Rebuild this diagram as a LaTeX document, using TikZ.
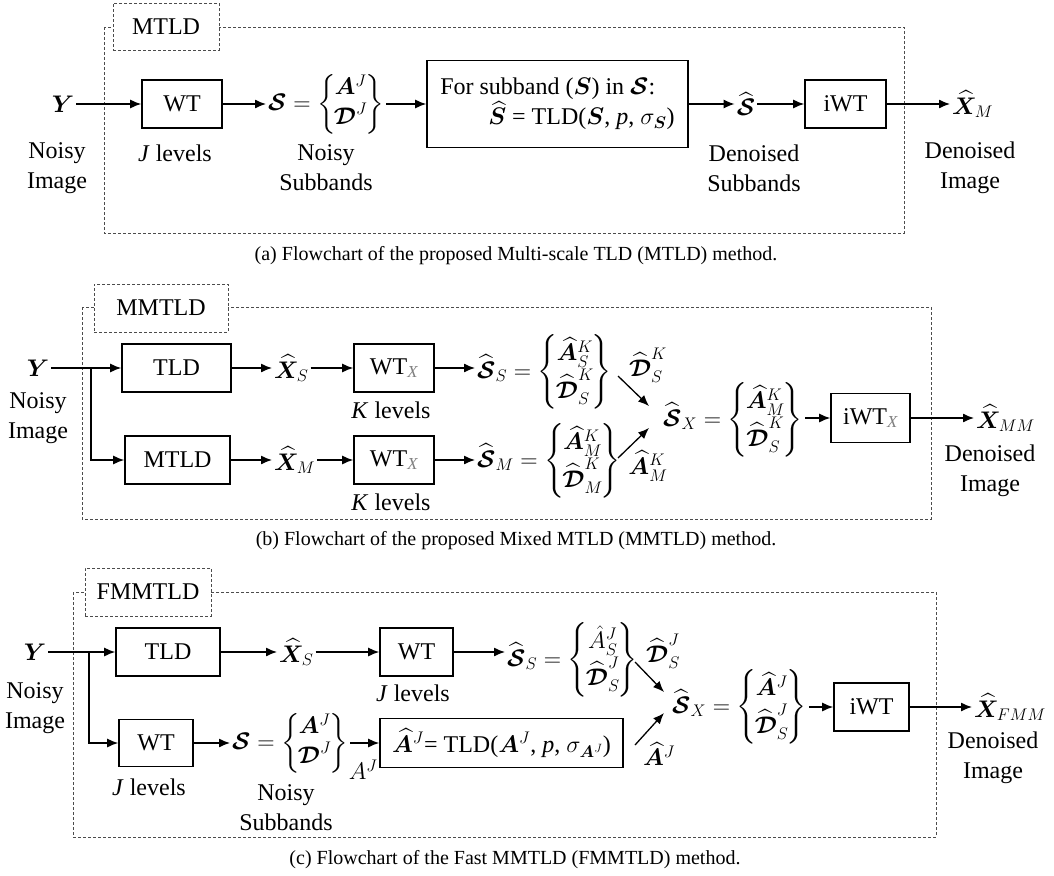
\RequirePackage{fix-cm}
\documentclass[tikz,border=0pt]{standalone}
\usepackage{amsmath}
\usepackage{bm}
\usepackage{fontspec}
\setmainfont{Liberation Serif}
\newfontfamily\tnr{Liberation Serif}
\usetikzlibrary{arrows.meta}
\newcommand\mSc{\bm{\mathcal{S}}}
\newcommand\mhSc{\widehat{\bm{\mathcal{S}}}}
\newcommand\mDc{\bm{\mathcal{D}}}
\newcommand\mhDc{\widehat{\bm{\mathcal{D}}}}
\newcommand\mhA{\widehat{\bm{A}}}
\newcommand\mhX{\widehat{\bm{X}}}
\newcommand\gX{\textcolor{gray}{\textit{X}}}
\newcommand\mset[2]{\left\{\begin{array}{@{\hspace{-2pt}}c@{\hspace{-2pt}}}#1\\#2\end{array}\right\}}
\begin{document}
\begin{tikzpicture}[x=1pt,y=-1pt,font=\tnr\fontsize{24}{30}\selectfont,
  box/.style={draw,line width=1.6pt,inner sep=0pt},
  arr/.style={draw,line width=1.3pt,-{Latex[length=11pt,width=9pt]}},
  dashframe/.style={draw=black!70,line width=0.8pt,dash pattern=on 3pt off 2pt},
  tag/.style={dashframe,fill=white,inner sep=0pt},
  lbl/.style={align=center,inner sep=0pt},
  mth/.style={inner sep=2pt},
  captxt/.style={font=\tnr\fontsize{20}{24}\selectfont,inner sep=0pt}]
\useasboundingbox (0,0) rectangle (1054,875);
\renewcommand\arraystretch{0.95}
% ---------------- (a)
\draw[dashframe] (104,27) rectangle (904,233);
\node[tag,minimum width=106pt,minimum height=47pt] (tagA) at (166,27) {MTLD};
\node[mth] (Ya) at (63,104) {$\bm{Y}$};
\node[box,minimum width=80pt,minimum height=48pt] (WTa) at (182,104) {WT};
\node[lbl] at (175,153) {\textit{J} levels};
\node[lbl] at (57,168) {Noisy\\Image};
\node[mth,anchor=west] (Sa) at (266,104) {$\mSc = \mset{\bm{A}^J}{\mDc^J}$};
\node[lbl] at (326,168) {Noisy\\Subbands};
\node[box,minimum width=261pt,minimum height=87pt,align=left] (TLDa) at (557.5,104) {For subband ($\bm{S}$) in $\mSc$:\\\hspace*{48pt}$\widehat{\bm{S}}$ = TLD($\bm{S}$, \textit{p}, $\sigma_{\bm{S}}$)};
\node[mth] (hSa) at (746,104) {$\mhSc$};
\node[lbl] at (754,168) {Denoised\\Subbands};
\node[box,minimum width=81pt,minimum height=48pt] (iWTa) at (845.5,104) {iWT};
\node[mth,anchor=west] (XMa) at (950,104) {$\mhX_M$};
\node[lbl] at (970,168) {Denoised\\Image};
\draw[arr] (Ya) -- (WTa);
\draw[arr] (WTa) -- (Sa);
\draw[arr] (Sa) -- (TLDa);
\draw[arr] (TLDa) -- (hSa);
\draw[arr] (hSa) -- (iWTa);
\draw[arr] (iWTa) -- (XMa);
\node[captxt] (capA) at (516,256) {(a) Flowchart of the proposed Multi-scale TLD (MTLD) method.};
% ---------------- (b)
\draw[dashframe] (82,307) rectangle (931,519);
\node[tag,minimum width=134pt,minimum height=48pt] (tagB) at (161,308) {MMTLD};
\node[mth] (Yb) at (38,368) {$\bm{Y}$};
\coordinate (brb) at (91,368);
\node[box,minimum width=109pt,minimum height=48pt] (TLDb) at (176.5,368) {TLD};
\node[box,minimum width=105pt,minimum height=48pt] (MTLDb) at (177.5,460) {MTLD};
\node[lbl] at (38,418) {Noisy\\Image};
\node[mth,anchor=west] (XSb) at (272,368) {$\mhX_S$};
\node[mth,anchor=west] (XMb) at (272,460) {$\mhX_M$};
\node[box,minimum width=80pt,minimum height=48pt] (WTb1) at (394,368) {WT$_{\gX}$};
\node[box,minimum width=80pt,minimum height=48pt] (WTb2) at (394,460) {WT$_{\gX}$};
\node[lbl] at (391,410) {\textit{K} levels};
\node[lbl] at (391,502) {\textit{K} levels};
\node[mth,anchor=west] (SSb) at (475,372) {$\mhSc_S = \mset{\mhA^K_S}{\mhDc^K_S}$};
\node[mth,anchor=west] (SMb) at (475,461) {$\mhSc_M = \mset{\mhA^K_M}{\mhDc^K_M}$};
\coordinate (sb1) at (618,376);
\coordinate (sb2) at (618,458);
\coordinate (jb1) at (649,406);
\coordinate (jb2) at (649,428);
\node[mth] (lDb) at (648,365) {$\mhDc^K_S$};
\node[mth] (lAb) at (648,466) {$\mhA^K_M$};
\node[mth,anchor=west] (SXb) at (661,420) {$\mhSc_X = \mset{\mhA^K_M}{\mhDc^K_S}$};
\node[box,minimum width=79pt,minimum height=49pt] (iWTb) at (870.5,418) {iWT$_{\gX}$};
\node[mth,anchor=west] (XMMb) at (974,418) {$\mhX_{MM}$};
\node[lbl] at (990,471) {Denoised\\Image};
\draw[line width=1.3pt] (Yb) -- (brb);
\draw[arr] (brb) -- (TLDb);
\draw[arr] (brb) |- (MTLDb);
\draw[arr] (TLDb) -- (XSb);
\draw[arr] (MTLDb) -- (XMb);
\draw[arr] (XSb) -- (WTb1);
\draw[arr] (XMb) -- (WTb2);
\draw[arr] (WTb1) -- (SSb.west |- WTb1);
\draw[arr] (WTb2) -- (SMb.west |- WTb2);
\draw[arr] (sb1) -- (jb1);
\draw[arr] (sb2) -- (jb2);
\draw[arr] (SXb.east |- iWTb) -- (iWTb);
\draw[arr] (iWTb) -- (XMMb);
\node[captxt] (capB) at (516,541) {(b) Flowchart of the proposed Mixed MTLD (MMTLD) method.};
% ---------------- (c)
\draw[dashframe] (73,592) rectangle (936,837);
\node[tag,minimum width=126pt,minimum height=48pt] (tagC) at (148,592) {FMMTLD};
\node[mth] (Yc) at (35,652) {$\bm{Y}$};
\coordinate (brc) at (89,652);
\node[box,minimum width=104pt,minimum height=48pt] (TLDc) at (168,652) {TLD};
\node[box,minimum width=74pt,minimum height=47pt] (WTc2) at (156,743) {WT};
\node[lbl] at (149,787) {\textit{J} levels};
\node[lbl] at (35,708) {Noisy\\Image};
\node[mth,anchor=west] (XSc) at (277,652) {$\mhX_S$};
\node[box,minimum width=73pt,minimum height=48pt] (WTc1) at (416.5,652) {WT};
\node[lbl] at (413,693) {\textit{J} levels};
\node[mth,anchor=west] (SSc) at (505,660) {$\mhSc_S = \mset{\hat{A}^J_S}{\mhDc^J_S}$};
\node[mth,anchor=west] (Sc) at (230,743) {$\mSc = \mset{\bm{A}^J}{\mDc^J}$};
\node[lbl] at (286,808) {Noisy\\Subbands};
\node[box,minimum width=243pt,minimum height=49pt] (TLDc2) at (501.5,743) {$\mhA^J$= TLD($\bm{A}^J$, \textit{p}, $\sigma_{\bm{A}^J}$)};
\coordinate (sc1) at (635,662);
\coordinate (sc2) at (635,745);
\coordinate (jc1) at (664,692);
\coordinate (jc2) at (664,713);
\node[mth] (lDc) at (663,651) {$\mhDc^J_S$};
\node[mth] (lAc) at (659,754) {$\mhA^J$};
\node[mth,anchor=west] (SXc) at (670,707) {$\mhSc_X = \mset{\mhA^J}{\mhDc^J_S}$};
\node[box,minimum width=75pt,minimum height=48pt] (iWTc) at (871.5,707) {iWT};
\node[mth,anchor=west] (XFc) at (972,707) {$\mhX_{FMM}$};
\node[lbl] at (993,758) {Denoised\\Image};
\draw[line width=1.3pt] (Yc) -- (brc);
\draw[arr] (brc) -- (TLDc);
\draw[arr] (brc) |- (WTc2);
\draw[arr] (TLDc) -- (XSc);
\draw[arr] (XSc) -- (WTc1);
\draw[arr] (WTc1) -- (SSc.west |- WTc1);
\draw[arr] (WTc2) -- (Sc);
\draw[arr] (Sc) -- node[pos=0.45,below=16pt,inner sep=0pt] (lAJ) {$A^J$} (TLDc2);
\draw[arr] (sc1) -- (jc1);
\draw[arr] (sc2) -- (jc2);
\draw[arr] (SXc.east |- iWTc) -- (iWTc);
\draw[arr] (iWTc) -- (XFc);
\node[captxt] (capC) at (515,860) {(c) Flowchart of the Fast MMTLD (FMMTLD) method.};
\end{tikzpicture}
\end{document}
